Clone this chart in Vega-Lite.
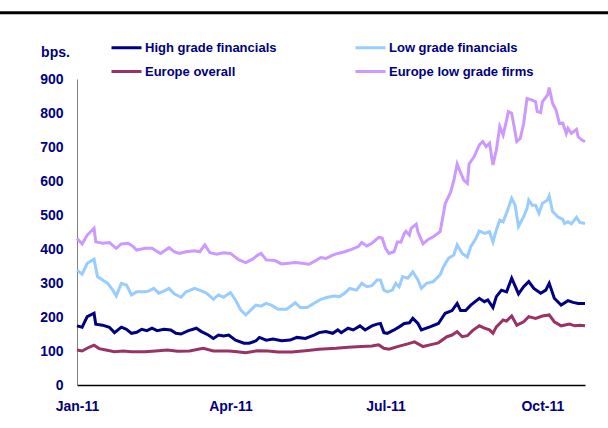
{
  "$schema": "https://vega.github.io/schema/vega-lite/v6.json",
  "width": 508,
  "height": 306,
  "autosize": {"type": "none"},
  "padding": {"left": 77, "top": 79, "right": 23, "bottom": 43},
  "config": {"view": {"stroke": null}, "font": "Liberation Sans", "axisY": {"labelOverlap": false}},
  "layer": [
    {
      "data": {"values": [{}]},
      "mark": {"type": "rule", "color": "#000000", "strokeWidth": 3, "clip": false},
      "encoding": {
        "x": {
          "datum": {"year": 2010, "month": 11, "date": 1}, "type": "temporal",
          "scale": {"domain": [{"year": 2011, "month": 1, "date": 1}, {"year": 2011, "month": 10, "date": 26}]},
          "axis": {
            "title": null, "format": "%b-%y",
            "values": [{"year": 2011, "month": 1, "date": 1}, {"year": 2011, "month": 4, "date": 1}, {"year": 2011, "month": 7, "date": 1}, {"year": 2011, "month": 10, "date": 1}],
            "ticks": false, "grid": false, "domainColor": "#000000", "domainWidth": 1.5,
            "labelColor": "#000080", "labelFontSize": 14, "labelFontWeight": "bold", "labelPadding": 14, "labelFlush": false, "labelOverlap": false
          }
        },
        "x2": {"datum": {"year": 2011, "month": 11, "date": 30}},
        "y": {
          "datum": 1095, "type": "quantitative",
          "scale": {"domain": [0, 900], "nice": false},
          "axis": {
            "title": "bps.", "titleAngle": 0, "titleX": -22, "titleY": -27, "titleAlign": "center", "titleBaseline": "middle",
            "titleColor": "#000080", "titleFontSize": 14, "titleFontWeight": "bold",
            "tickCount": 9,
            "ticks": false, "grid": false, "domainColor": "#808080", "domainWidth": 1,
            "labelColor": "#000080", "labelFontSize": 14, "labelFontWeight": "bold", "labelPadding": 14, "labelOverlap": false
          }
        }
      }
    },
    {
      "data": {"values": [
        {"d":"2011/01/01","v":174},{"d":"2011/01/04","v":170},{"d":"2011/01/07","v":201},{"d":"2011/01/11","v":211},{"d":"2011/01/12","v":179},{"d":"2011/01/16","v":176},{"d":"2011/01/20","v":170},{"d":"2011/01/23","v":154},{"d":"2011/01/27","v":170},{"d":"2011/01/30","v":164},{"d":"2011/02/02","v":152},{"d":"2011/02/05","v":155},{"d":"2011/02/08","v":164},{"d":"2011/02/11","v":160},{"d":"2011/02/14","v":167},{"d":"2011/02/17","v":160},{"d":"2011/02/21","v":164},{"d":"2011/02/25","v":162},{"d":"2011/02/28","v":152},{"d":"2011/03/03","v":150},{"d":"2011/03/07","v":159},{"d":"2011/03/12","v":167},{"d":"2011/03/15","v":157},{"d":"2011/03/19","v":147},{"d":"2011/03/22","v":137},{"d":"2011/03/25","v":147},{"d":"2011/03/28","v":144},{"d":"2011/03/31","v":147},{"d":"2011/04/04","v":132},{"d":"2011/04/09","v":123},{"d":"2011/04/12","v":123},{"d":"2011/04/16","v":130},{"d":"2011/04/18","v":140},{"d":"2011/04/22","v":132},{"d":"2011/04/26","v":135},{"d":"2011/05/01","v":130},{"d":"2011/05/06","v":132},{"d":"2011/05/10","v":140},{"d":"2011/05/15","v":137},{"d":"2011/05/20","v":147},{"d":"2011/05/23","v":154},{"d":"2011/05/27","v":157},{"d":"2011/05/31","v":152},{"d":"2011/06/03","v":162},{"d":"2011/06/05","v":154},{"d":"2011/06/09","v":167},{"d":"2011/06/12","v":162},{"d":"2011/06/16","v":174},{"d":"2011/06/19","v":162},{"d":"2011/06/23","v":174},{"d":"2011/06/26","v":179},{"d":"2011/06/28","v":181},{"d":"2011/06/30","v":154},{"d":"2011/07/02","v":152},{"d":"2011/07/06","v":162},{"d":"2011/07/09","v":171},{"d":"2011/07/12","v":181},{"d":"2011/07/15","v":183},{"d":"2011/07/17","v":196},{"d":"2011/07/20","v":181},{"d":"2011/07/22","v":162},{"d":"2011/07/27","v":171},{"d":"2011/08/01","v":181},{"d":"2011/08/05","v":211},{"d":"2011/08/09","v":219},{"d":"2011/08/12","v":240},{"d":"2011/08/14","v":219},{"d":"2011/08/17","v":219},{"d":"2011/08/20","v":235},{"d":"2011/08/25","v":255},{"d":"2011/08/28","v":245},{"d":"2011/08/30","v":250},{"d":"2011/09/02","v":228},{"d":"2011/09/04","v":260},{"d":"2011/09/07","v":279},{"d":"2011/09/10","v":274},{"d":"2011/09/13","v":314},{"d":"2011/09/17","v":268},{"d":"2011/09/20","v":289},{"d":"2011/09/23","v":304},{"d":"2011/09/26","v":284},{"d":"2011/09/30","v":270},{"d":"2011/10/03","v":279},{"d":"2011/10/05","v":299},{"d":"2011/10/08","v":255},{"d":"2011/10/12","v":235},{"d":"2011/10/16","v":248},{"d":"2011/10/19","v":243},{"d":"2011/10/22","v":240},{"d":"2011/10/26","v":240}
      ]},
      "mark": {"type": "line", "strokeWidth": 3},
      "encoding": {
        "x": {"field": "d", "type": "temporal"},
        "y": {"field": "v", "type": "quantitative"},
        "color": {
          "datum": "High grade financials",
          "scale": {
            "domain": ["High grade financials", "Europe overall", "Low grade financials", "Europe low grade firms"],
            "range": ["#000080", "#993366", "#99ccff", "#cc99ff"]
          },
          "legend": {
            "title": null, "orient": "none", "legendX": 33, "legendY": -48, "columns": 2, "columnPadding": 72, "rowPadding": -7,
            "symbolType": "stroke", "symbolSize": 900, "symbolStrokeWidth": 3, "labelOffset": 2, "padding": 0,
            "labelColor": "#000080", "labelFontSize": 13, "labelFontWeight": "bold"
          }
        }
      }
    },
    {
      "data": {"values": [
        {"d":"2011/01/01","v":338},{"d":"2011/01/04","v":326},{"d":"2011/01/07","v":358},{"d":"2011/01/11","v":370},{"d":"2011/01/13","v":319},{"d":"2011/01/16","v":309},{"d":"2011/01/19","v":299},{"d":"2011/01/22","v":279},{"d":"2011/01/24","v":262},{"d":"2011/01/27","v":299},{"d":"2011/01/30","v":294},{"d":"2011/02/02","v":265},{"d":"2011/02/05","v":274},{"d":"2011/02/09","v":274},{"d":"2011/02/12","v":276},{"d":"2011/02/15","v":284},{"d":"2011/02/18","v":270},{"d":"2011/02/21","v":276},{"d":"2011/02/24","v":284},{"d":"2011/02/27","v":268},{"d":"2011/03/03","v":258},{"d":"2011/03/06","v":274},{"d":"2011/03/11","v":284},{"d":"2011/03/15","v":277},{"d":"2011/03/18","v":270},{"d":"2011/03/22","v":252},{"d":"2011/03/25","v":265},{"d":"2011/03/28","v":258},{"d":"2011/04/01","v":272},{"d":"2011/04/04","v":250},{"d":"2011/04/07","v":221},{"d":"2011/04/10","v":206},{"d":"2011/04/13","v":221},{"d":"2011/04/16","v":235},{"d":"2011/04/19","v":232},{"d":"2011/04/22","v":240},{"d":"2011/04/25","v":235},{"d":"2011/04/29","v":223},{"d":"2011/05/04","v":223},{"d":"2011/05/09","v":242},{"d":"2011/05/12","v":228},{"d":"2011/05/16","v":228},{"d":"2011/05/20","v":240},{"d":"2011/05/24","v":252},{"d":"2011/05/28","v":258},{"d":"2011/06/01","v":262},{"d":"2011/06/04","v":260},{"d":"2011/06/07","v":270},{"d":"2011/06/10","v":284},{"d":"2011/06/14","v":279},{"d":"2011/06/17","v":299},{"d":"2011/06/20","v":289},{"d":"2011/06/23","v":292},{"d":"2011/06/26","v":309},{"d":"2011/06/28","v":309},{"d":"2011/06/30","v":279},{"d":"2011/07/02","v":274},{"d":"2011/07/05","v":279},{"d":"2011/07/07","v":299},{"d":"2011/07/09","v":289},{"d":"2011/07/11","v":319},{"d":"2011/07/14","v":314},{"d":"2011/07/17","v":333},{"d":"2011/07/20","v":309},{"d":"2011/07/22","v":284},{"d":"2011/07/25","v":299},{"d":"2011/07/29","v":304},{"d":"2011/08/02","v":324},{"d":"2011/08/04","v":348},{"d":"2011/08/07","v":373},{"d":"2011/08/10","v":382},{"d":"2011/08/12","v":412},{"d":"2011/08/15","v":387},{"d":"2011/08/18","v":376},{"d":"2011/08/20","v":407},{"d":"2011/08/23","v":431},{"d":"2011/08/25","v":453},{"d":"2011/08/28","v":446},{"d":"2011/08/31","v":451},{"d":"2011/09/02","v":421},{"d":"2011/09/04","v":456},{"d":"2011/09/06","v":485},{"d":"2011/09/08","v":480},{"d":"2011/09/11","v":520},{"d":"2011/09/13","v":549},{"d":"2011/09/15","v":529},{"d":"2011/09/17","v":466},{"d":"2011/09/20","v":495},{"d":"2011/09/22","v":520},{"d":"2011/09/23","v":544},{"d":"2011/09/25","v":529},{"d":"2011/09/27","v":529},{"d":"2011/09/29","v":505},{"d":"2011/10/01","v":534},{"d":"2011/10/04","v":544},{"d":"2011/10/05","v":556},{"d":"2011/10/07","v":510},{"d":"2011/10/10","v":495},{"d":"2011/10/13","v":487},{"d":"2011/10/14","v":475},{"d":"2011/10/16","v":480},{"d":"2011/10/18","v":474},{"d":"2011/10/21","v":493},{"d":"2011/10/23","v":478},{"d":"2011/10/26","v":475}
      ]},
      "mark": {"type": "line", "strokeWidth": 3},
      "encoding": {
        "x": {"field": "d", "type": "temporal"},
        "y": {"field": "v", "type": "quantitative"},
        "color": {"datum": "Low grade financials"}
      }
    },
    {
      "data": {"values": [
        {"d":"2011/01/01","v":103},{"d":"2011/01/04","v":100},{"d":"2011/01/08","v":111},{"d":"2011/01/11","v":117},{"d":"2011/01/14","v":107},{"d":"2011/01/18","v":103},{"d":"2011/01/23","v":98},{"d":"2011/01/28","v":100},{"d":"2011/02/02","v":98},{"d":"2011/02/10","v":98},{"d":"2011/02/16","v":100},{"d":"2011/02/23","v":103},{"d":"2011/03/01","v":99},{"d":"2011/03/08","v":100},{"d":"2011/03/16","v":108},{"d":"2011/03/22","v":100},{"d":"2011/03/31","v":100},{"d":"2011/04/05","v":98},{"d":"2011/04/10","v":95},{"d":"2011/04/17","v":101},{"d":"2011/04/23","v":100},{"d":"2011/04/29","v":97},{"d":"2011/05/07","v":97},{"d":"2011/05/15","v":101},{"d":"2011/05/23","v":105},{"d":"2011/06/02","v":108},{"d":"2011/06/09","v":111},{"d":"2011/06/17","v":113},{"d":"2011/06/23","v":115},{"d":"2011/06/27","v":118},{"d":"2011/06/30","v":108},{"d":"2011/07/03","v":105},{"d":"2011/07/08","v":113},{"d":"2011/07/14","v":121},{"d":"2011/07/18","v":127},{"d":"2011/07/23","v":113},{"d":"2011/07/27","v":118},{"d":"2011/08/01","v":124},{"d":"2011/08/06","v":142},{"d":"2011/08/09","v":147},{"d":"2011/08/12","v":157},{"d":"2011/08/15","v":142},{"d":"2011/08/18","v":145},{"d":"2011/08/21","v":160},{"d":"2011/08/25","v":174},{"d":"2011/08/28","v":167},{"d":"2011/08/31","v":162},{"d":"2011/09/02","v":152},{"d":"2011/09/04","v":171},{"d":"2011/09/08","v":191},{"d":"2011/09/10","v":188},{"d":"2011/09/13","v":203},{"d":"2011/09/16","v":176},{"d":"2011/09/20","v":186},{"d":"2011/09/23","v":201},{"d":"2011/09/27","v":196},{"d":"2011/10/01","v":203},{"d":"2011/10/05","v":206},{"d":"2011/10/08","v":186},{"d":"2011/10/12","v":174},{"d":"2011/10/17","v":179},{"d":"2011/10/20","v":174},{"d":"2011/10/23","v":176},{"d":"2011/10/26","v":174}
      ]},
      "mark": {"type": "line", "strokeWidth": 3},
      "encoding": {
        "x": {"field": "d", "type": "temporal"},
        "y": {"field": "v", "type": "quantitative"},
        "color": {"datum": "Europe overall"}
      }
    },
    {
      "data": {"values": [
        {"d":"2011/01/01","v":431},{"d":"2011/01/04","v":415},{"d":"2011/01/07","v":441},{"d":"2011/01/11","v":461},{"d":"2011/01/12","v":421},{"d":"2011/01/16","v":417},{"d":"2011/01/20","v":419},{"d":"2011/01/24","v":402},{"d":"2011/01/27","v":415},{"d":"2011/01/31","v":417},{"d":"2011/02/03","v":407},{"d":"2011/02/05","v":397},{"d":"2011/02/10","v":402},{"d":"2011/02/14","v":402},{"d":"2011/02/19","v":387},{"d":"2011/02/24","v":404},{"d":"2011/02/27","v":392},{"d":"2011/03/02","v":387},{"d":"2011/03/06","v":392},{"d":"2011/03/11","v":395},{"d":"2011/03/14","v":392},{"d":"2011/03/17","v":412},{"d":"2011/03/20","v":389},{"d":"2011/03/24","v":385},{"d":"2011/03/28","v":389},{"d":"2011/04/01","v":387},{"d":"2011/04/06","v":368},{"d":"2011/04/10","v":360},{"d":"2011/04/14","v":370},{"d":"2011/04/17","v":382},{"d":"2011/04/19","v":387},{"d":"2011/04/22","v":368},{"d":"2011/04/27","v":366},{"d":"2011/05/01","v":356},{"d":"2011/05/05","v":358},{"d":"2011/05/09","v":360},{"d":"2011/05/13","v":358},{"d":"2011/05/17","v":355},{"d":"2011/05/20","v":363},{"d":"2011/05/24","v":375},{"d":"2011/05/27","v":372},{"d":"2011/05/31","v":382},{"d":"2011/06/03","v":387},{"d":"2011/06/07","v":392},{"d":"2011/06/11","v":399},{"d":"2011/06/15","v":407},{"d":"2011/06/17","v":419},{"d":"2011/06/20","v":409},{"d":"2011/06/23","v":417},{"d":"2011/06/27","v":434},{"d":"2011/06/29","v":432},{"d":"2011/07/01","v":402},{"d":"2011/07/03","v":387},{"d":"2011/07/06","v":392},{"d":"2011/07/08","v":421},{"d":"2011/07/10","v":420},{"d":"2011/07/12","v":446},{"d":"2011/07/13","v":452},{"d":"2011/07/15","v":441},{"d":"2011/07/16","v":461},{"d":"2011/07/19","v":473},{"d":"2011/07/20","v":450},{"d":"2011/07/23","v":415},{"d":"2011/07/26","v":428},{"d":"2011/07/29","v":436},{"d":"2011/08/02","v":451},{"d":"2011/08/04","v":505},{"d":"2011/08/05","v":534},{"d":"2011/08/08","v":565},{"d":"2011/08/10","v":600},{"d":"2011/08/12","v":650},{"d":"2011/08/14","v":625},{"d":"2011/08/16","v":602},{"d":"2011/08/18","v":593},{"d":"2011/08/19","v":650},{"d":"2011/08/22","v":672},{"d":"2011/08/25","v":706},{"d":"2011/08/27","v":716},{"d":"2011/08/29","v":701},{"d":"2011/08/31","v":711},{"d":"2011/09/02","v":647},{"d":"2011/09/04","v":691},{"d":"2011/09/06","v":760},{"d":"2011/09/08","v":735},{"d":"2011/09/10","v":779},{"d":"2011/09/11","v":804},{"d":"2011/09/13","v":799},{"d":"2011/09/16","v":716},{"d":"2011/09/18","v":725},{"d":"2011/09/20","v":769},{"d":"2011/09/22","v":843},{"d":"2011/09/25","v":838},{"d":"2011/09/27","v":833},{"d":"2011/09/28","v":804},{"d":"2011/09/30","v":801},{"d":"2011/10/01","v":833},{"d":"2011/10/04","v":853},{"d":"2011/10/05","v":875},{"d":"2011/10/07","v":828},{"d":"2011/10/09","v":809},{"d":"2011/10/11","v":769},{"d":"2011/10/13","v":770},{"d":"2011/10/15","v":740},{"d":"2011/10/16","v":755},{"d":"2011/10/18","v":740},{"d":"2011/10/21","v":752},{"d":"2011/10/22","v":730},{"d":"2011/10/24","v":721},{"d":"2011/10/26","v":716}
      ]},
      "mark": {"type": "line", "strokeWidth": 3},
      "encoding": {
        "x": {"field": "d", "type": "temporal"},
        "y": {"field": "v", "type": "quantitative"},
        "color": {"datum": "Europe low grade firms"}
      }
    }
  ]
}
